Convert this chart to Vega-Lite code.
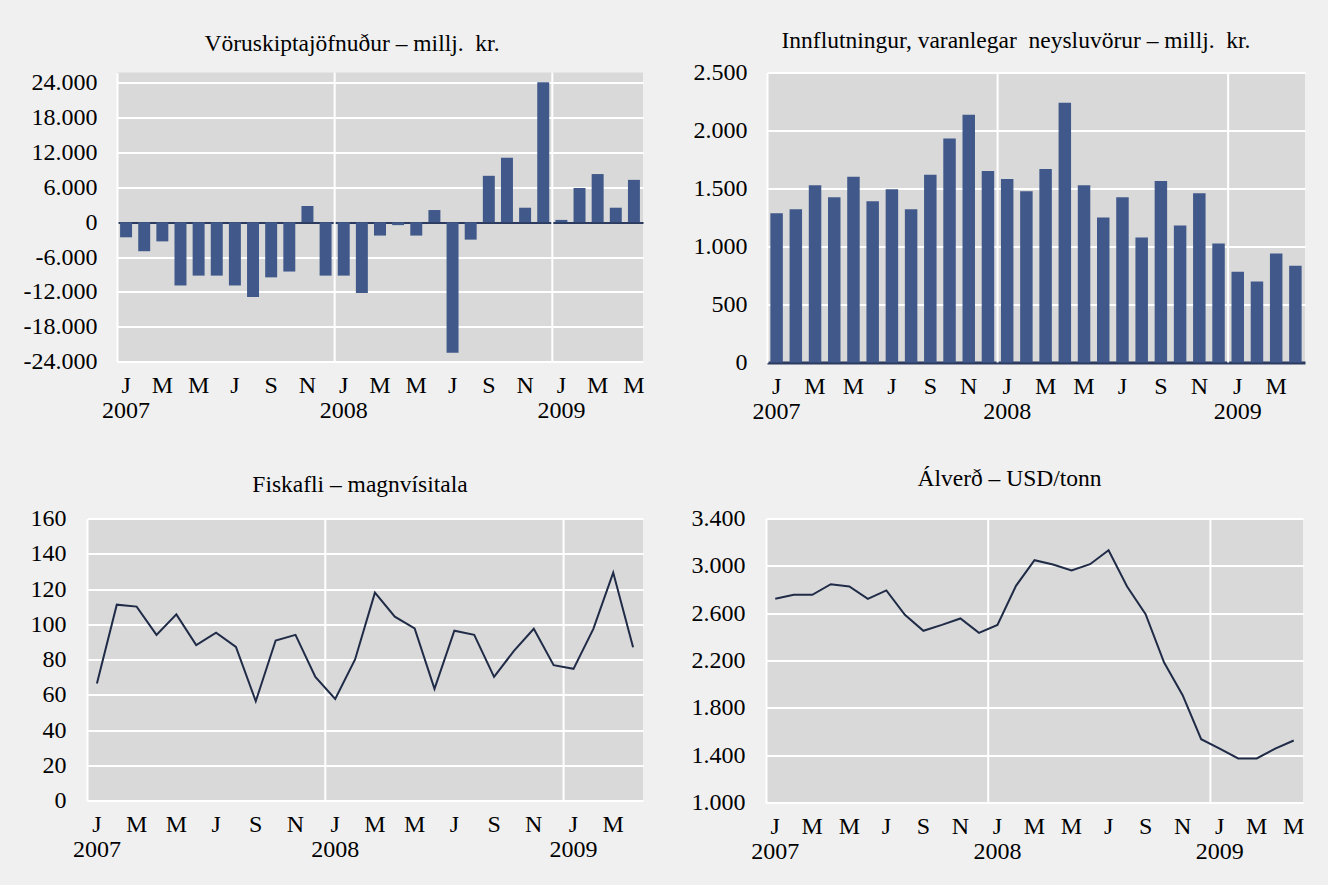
{
  "$schema": "https://vega.github.io/schema/vega-lite/v6.json",
  "background": "#f0f0f0",
  "padding": {"left": 23, "top": 28.5, "right": 23, "bottom": 28},
  "config": {
    "font": "Liberation Serif",
    "view": {"fill": "#d9d9d9", "stroke": null},
    "axis": {"labelFont": "Liberation Serif", "labelFontSize": 24, "labelColor": "#000000", "ticks": false, "tickSize": 0, "title": null, "labelOverlap": false, "labelBound": false},
    "axisY": {"grid": true, "gridColor": "#ffffff", "gridWidth": 2, "domain": true, "domainColor": "#ffffff", "domainWidth": 2, "labelPadding": 20},
    "axisX": {"grid": false, "domain": false, "labelPadding": 12, "labelLineHeight": 25, "labelAngle": 0, "labelAlign": "center", "labelBaseline": "top"},
    "title": {"font": "Liberation Serif", "fontSize": 23.5, "fontWeight": "normal", "color": "#000000", "anchor": "middle", "frame": "group"}
  },
  "datasets": {
    "trade": [
      {"m": "2007-01", "v": -2600}, {"m": "2007-02", "v": -5000}, {"m": "2007-03", "v": -3300}, {"m": "2007-04", "v": -10900},
      {"m": "2007-05", "v": -9200}, {"m": "2007-06", "v": -9200}, {"m": "2007-07", "v": -10900}, {"m": "2007-08", "v": -12900},
      {"m": "2007-09", "v": -9500}, {"m": "2007-10", "v": -8500}, {"m": "2007-11", "v": 2800}, {"m": "2007-12", "v": -9200},
      {"m": "2008-01", "v": -9200}, {"m": "2008-02", "v": -12200}, {"m": "2008-03", "v": -2300}, {"m": "2008-04", "v": -500},
      {"m": "2008-05", "v": -2300}, {"m": "2008-06", "v": 2100}, {"m": "2008-07", "v": -22500}, {"m": "2008-08", "v": -3000},
      {"m": "2008-09", "v": 8000}, {"m": "2008-10", "v": 11100}, {"m": "2008-11", "v": 2500}, {"m": "2008-12", "v": 24100},
      {"m": "2009-01", "v": 400}, {"m": "2009-02", "v": 5900}, {"m": "2009-03", "v": 8300}, {"m": "2009-04", "v": 2500},
      {"m": "2009-05", "v": 7300}
    ],
    "imports": [
      {"m": "2007-01", "v": 1286}, {"m": "2007-02", "v": 1321}, {"m": "2007-03", "v": 1529}, {"m": "2007-04", "v": 1425},
      {"m": "2007-05", "v": 1601}, {"m": "2007-06", "v": 1390}, {"m": "2007-07", "v": 1494}, {"m": "2007-08", "v": 1321},
      {"m": "2007-09", "v": 1618}, {"m": "2007-10", "v": 1931}, {"m": "2007-11", "v": 2136}, {"m": "2007-12", "v": 1650},
      {"m": "2008-01", "v": 1581}, {"m": "2008-02", "v": 1477}, {"m": "2008-03", "v": 1668}, {"m": "2008-04", "v": 2240},
      {"m": "2008-05", "v": 1529}, {"m": "2008-06", "v": 1251}, {"m": "2008-07", "v": 1425}, {"m": "2008-08", "v": 1078},
      {"m": "2008-09", "v": 1564}, {"m": "2008-10", "v": 1182}, {"m": "2008-11", "v": 1460}, {"m": "2008-12", "v": 1026},
      {"m": "2009-01", "v": 783}, {"m": "2009-02", "v": 699}, {"m": "2009-03", "v": 939}, {"m": "2009-04", "v": 835}
    ],
    "fish": [
      {"m": "2007-01", "v": 66.4}, {"m": "2007-02", "v": 111.1}, {"m": "2007-03", "v": 110.0}, {"m": "2007-04", "v": 94.0},
      {"m": "2007-05", "v": 105.6}, {"m": "2007-06", "v": 88.2}, {"m": "2007-07", "v": 95.2}, {"m": "2007-08", "v": 87.2},
      {"m": "2007-09", "v": 56.3}, {"m": "2007-10", "v": 90.8}, {"m": "2007-11", "v": 94.0}, {"m": "2007-12", "v": 70.1},
      {"m": "2008-01", "v": 57.6}, {"m": "2008-02", "v": 80.0}, {"m": "2008-03", "v": 117.9}, {"m": "2008-04", "v": 104.3},
      {"m": "2008-05", "v": 97.6}, {"m": "2008-06", "v": 63.3}, {"m": "2008-07", "v": 96.3}, {"m": "2008-08", "v": 94.0},
      {"m": "2008-09", "v": 70.1}, {"m": "2008-10", "v": 84.9}, {"m": "2008-11", "v": 97.4}, {"m": "2008-12", "v": 76.8},
      {"m": "2009-01", "v": 74.7}, {"m": "2009-02", "v": 97.4}, {"m": "2009-03", "v": 129.3}, {"m": "2009-04", "v": 87.0}
    ],
    "alu": [
      {"m": "2007-01", "v": 2721}, {"m": "2007-02", "v": 2755}, {"m": "2007-03", "v": 2755}, {"m": "2007-04", "v": 2845},
      {"m": "2007-05", "v": 2825}, {"m": "2007-06", "v": 2721}, {"m": "2007-07", "v": 2792}, {"m": "2007-08", "v": 2586},
      {"m": "2007-09", "v": 2451}, {"m": "2007-10", "v": 2501}, {"m": "2007-11", "v": 2555}, {"m": "2007-12", "v": 2434},
      {"m": "2008-01", "v": 2501}, {"m": "2008-02", "v": 2831}, {"m": "2008-03", "v": 3048}, {"m": "2008-04", "v": 3011},
      {"m": "2008-05", "v": 2961}, {"m": "2008-06", "v": 3014}, {"m": "2008-07", "v": 3132}, {"m": "2008-08", "v": 2825},
      {"m": "2008-09", "v": 2592}, {"m": "2008-10", "v": 2183}, {"m": "2008-11", "v": 1907}, {"m": "2008-12", "v": 1535},
      {"m": "2009-01", "v": 1456}, {"m": "2009-02", "v": 1372}, {"m": "2009-03", "v": 1372}, {"m": "2009-04", "v": 1456},
      {"m": "2009-05", "v": 1524}
    ]
  },
  "spacing": 43,
  "vconcat": [
    {
      "columns": 2,
      "align": "none",
      "spacing": -65,
      "concat": [
        {"width": 1, "height": 1, "data": {"values": []}, "mark": "point", "view": {"fill": null, "stroke": null}},
        {
          "spacing": 48,
          "hconcat": [
            {
              "width": 526, "height": 289,
              "title": {"text": "Vöruskiptajöfnuður – millj.\u00a0 kr.", "dx": -28, "offset": 15},
              "data": {"name": "trade"},
              "layer": [
                {
                  "transform": [{"filter": "datum.m == '2008-01' || datum.m == '2009-01'"}],
                  "mark": {"type": "rule", "color": "#ffffff", "strokeWidth": 2},
                  "encoding": {"x": {"field": "m", "type": "ordinal", "bandPosition": 0, "scale": {"type": "band", "paddingInner": 0, "paddingOuter": 0},
                    "axis": {"labelExpr": "substring(datum.value,5,7) == '01' ? ['J', substring(datum.value,0,4)] : ['','','M','','M','','J','','S','','N',''][toNumber(substring(datum.value,5,7))-1]"}}}
                },
                {
                  "mark": {"type": "bar", "color": "#40598a", "width": {"band": 0.66}},
                  "encoding": {
                    "x": {"field": "m", "type": "ordinal", "scale": {"type": "band", "paddingInner": 0, "paddingOuter": 0},
                      "axis": {"labelExpr": "substring(datum.value,5,7) == '01' ? ['J', substring(datum.value,0,4)] : ['','','M','','M','','J','','S','','N',''][toNumber(substring(datum.value,5,7))-1]"}},
                    "y": {"field": "v", "type": "quantitative", "scale": {"domain": [-24000, 25800], "nice": false, "zero": false},
                      "axis": {"values": [-24000, -18000, -12000, -6000, 0, 6000, 12000, 18000, 24000],
                        "gridColor": {"condition": {"test": "datum.value === 0", "value": "#2b3a5e"}, "value": "#ffffff"},
                        "labelExpr": "(datum.value < 0 ? '-' : '') + replace(format(abs(datum.value), ','), ',', '.')"}}
                  }
                }
              ]
            },
            {
              "width": 538, "height": 290,
              "title": {"text": "Innflutningur, varanlegar\u00a0 neysluvörur – millj.\u00a0 kr.", "dx": -20, "offset": 8},
              "data": {"name": "imports"},
              "layer": [
                {
                  "transform": [{"filter": "datum.m == '2008-01' || datum.m == '2009-01'"}],
                  "mark": {"type": "rule", "color": "#ffffff", "strokeWidth": 2},
                  "encoding": {"x": {"field": "m", "type": "ordinal", "bandPosition": 0, "scale": {"type": "band", "paddingInner": 0, "paddingOuter": 0},
                    "axis": {"labelExpr": "substring(datum.value,5,7) == '01' ? ['J', substring(datum.value,0,4)] : ['','','M','','M','','J','','S','','N',''][toNumber(substring(datum.value,5,7))-1]"}}}
                },
                {
                  "mark": {"type": "bar", "color": "#40598a", "width": {"band": 0.65}},
                  "encoding": {
                    "x": {"field": "m", "type": "ordinal", "scale": {"type": "band", "paddingInner": 0, "paddingOuter": 0},
                      "axis": {"labelExpr": "substring(datum.value,5,7) == '01' ? ['J', substring(datum.value,0,4)] : ['','','M','','M','','J','','S','','N',''][toNumber(substring(datum.value,5,7))-1]"}},
                    "y": {"field": "v", "type": "quantitative", "scale": {"domain": [0, 2500], "nice": false},
                      "axis": {"values": [0, 500, 1000, 1500, 2000, 2500],
                        "gridColor": {"condition": {"test": "datum.value === 0", "value": "#2b3a5e"}, "value": "#ffffff"},
                        "gridWidth": {"condition": {"test": "datum.value === 0", "value": 3}, "value": 2},
                        "labelExpr": "replace(format(datum.value, ','), ',', '.')"}}
                  }
                }
              ]
            }
          ]
        }
      ]
    },
    {
      "spacing": 48,
      "hconcat": [
        {
          "width": 556, "height": 282,
          "title": {"text": "Fiskafli – magnvísitala", "dx": -5, "offset": 10},
          "data": {"name": "fish"},
          "layer": [
            {
              "transform": [{"filter": "datum.m == '2008-01' || datum.m == '2009-01'"}],
              "mark": {"type": "rule", "color": "#ffffff", "strokeWidth": 2},
              "encoding": {"x": {"field": "m", "type": "ordinal", "bandPosition": 0, "scale": {"type": "band", "paddingInner": 0, "paddingOuter": 0},
                "axis": {"labelExpr": "substring(datum.value,5,7) == '01' ? ['J', substring(datum.value,0,4)] : ['','','M','','M','','J','','S','','N',''][toNumber(substring(datum.value,5,7))-1]"}}}
            },
            {
              "mark": {"type": "line", "color": "#1f2b47", "strokeWidth": 2},
              "encoding": {
                "x": {"field": "m", "type": "ordinal", "scale": {"type": "band", "paddingInner": 0, "paddingOuter": 0},
                  "axis": {"labelExpr": "substring(datum.value,5,7) == '01' ? ['J', substring(datum.value,0,4)] : ['','','M','','M','','J','','S','','N',''][toNumber(substring(datum.value,5,7))-1]"}},
                "y": {"field": "v", "type": "quantitative", "scale": {"domain": [0, 160], "nice": false},
                  "axis": {"values": [0, 20, 40, 60, 80, 100, 120, 140, 160], "labelPadding": 21}}
              }
            }
          ]
        },
        {
          "width": 537, "height": 284,
          "title": {"text": "Álverð – USD/tonn", "dx": -25, "offset": 16},
          "data": {"name": "alu"},
          "layer": [
            {
              "transform": [{"filter": "datum.m == '2008-01' || datum.m == '2009-01'"}],
              "mark": {"type": "rule", "color": "#ffffff", "strokeWidth": 2},
              "encoding": {"x": {"field": "m", "type": "ordinal", "bandPosition": 0, "scale": {"type": "band", "paddingInner": 0, "paddingOuter": 0},
                "axis": {"labelExpr": "substring(datum.value,5,7) == '01' ? ['J', substring(datum.value,0,4)] : ['','','M','','M','','J','','S','','N',''][toNumber(substring(datum.value,5,7))-1]"}}}
            },
            {
              "mark": {"type": "line", "color": "#1f2b47", "strokeWidth": 2},
              "encoding": {
                "x": {"field": "m", "type": "ordinal", "scale": {"type": "band", "paddingInner": 0, "paddingOuter": 0},
                  "axis": {"labelExpr": "substring(datum.value,5,7) == '01' ? ['J', substring(datum.value,0,4)] : ['','','M','','M','','J','','S','','N',''][toNumber(substring(datum.value,5,7))-1]"}},
                "y": {"field": "v", "type": "quantitative", "scale": {"domain": [1000, 3400], "nice": false, "zero": false},
                  "axis": {"values": [1000, 1400, 1800, 2200, 2600, 3000, 3400], "labelPadding": 21,
                    "labelExpr": "replace(format(datum.value, ','), ',', '.')"}}
              }
            }
          ]
        }
      ]
    }
  ]
}
